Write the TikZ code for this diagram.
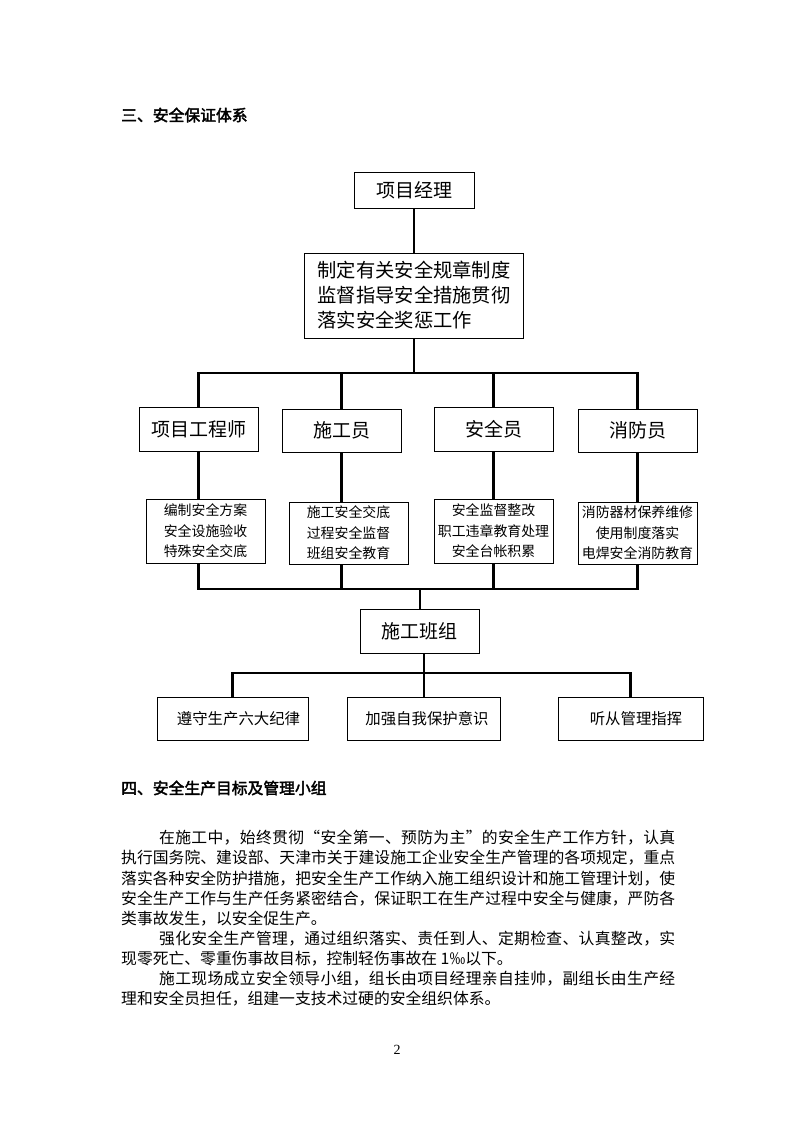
\documentclass[tikz,border=0pt]{standalone}
\usepackage{fontspec}
\setmainfont{Liberation Serif}
\newfontfamily\cjk{Noto Sans CJK SC}
\newfontfamily\cjkb{Noto Sans CJK SC}[FakeBold=2.5]
\def\sprdaux#1{\ifx\relax#1\else#1\hfil\expandafter\sprdaux\fi}
\newcommand\jline[2]{\makebox[#1][s]{\sprdaux#2\relax\unskip}}
\tikzset{
  box/.style={draw, line width=1pt, inner sep=0pt, align=center},
  conn/.style={line width=2.3pt},
  bigtxt/.style={font=\cjk\fontsize{19}{25}\selectfont},
  maintxt/.style={font=\cjk\fontsize{19.3}{25}\selectfont},
  smalltxt/.style={font=\cjk\fontsize{13.9}{20.5}\selectfont},
  midtxt/.style={font=\cjk\fontsize{15.4}{20}\selectfont},
  headtxt/.style={font=\cjkb\fontsize{15.8}{20}\selectfont, anchor=west, inner sep=0pt},
  bodytxt/.style={font=\cjk\fontsize{15.8}{20}\selectfont, anchor=west, inner sep=0pt},
  rowbox/.style={box, bigtxt, minimum width=119pt},
  lowbox/.style={box, smalltxt, minimum width=119pt},
  grpbox/.style={box, midtxt, minimum height=43pt}
}
\begin{document}
\begin{tikzpicture}[x=1pt,y=-1pt]
\fill[white] (0,0) rectangle (793,1122);
\useasboundingbox (0,0) rectangle (793,1122);

% headings
\node[headtxt] (h1) at (121,115) {三、安全保证体系};
\node[headtxt] (h2) at (121,788) {四、安全生产目标及管理小组};

% top boxes
\node[box, bigtxt, minimum width=120pt, minimum height=36pt] (pm) at (414,190) {项目经理};
\node[box, maintxt, align=left, minimum width=219pt, minimum height=85pt] (main) at (414,295.5)
  {制定有关安全规章制度\\监督指导安全措施贯彻\\落实安全奖惩工作};

% role row
\node[rowbox, minimum height=44pt] (ra) at (198.5,429) {项目工程师};
\node[rowbox, minimum height=43pt] (rb) at (341.5,430.5) {施工员};
\node[rowbox, minimum height=44pt] (rc) at (493.5,429) {安全员};
\node[rowbox, minimum height=43pt] (rd) at (637.5,430.5) {消防员};

% duty boxes
\node[lowbox, minimum height=64pt] (la) at (205.5,531) {编制安全方案\\安全设施验收\\特殊安全交底};
\node[lowbox, minimum height=62pt] (lb) at (348.5,533) {施工安全交底\\过程安全监督\\班组安全教育};
\node[lowbox, minimum height=64pt] (lc) at (493.5,531) {安全监督整改\\职工违章教育处理\\安全台帐积累};
\node[lowbox, minimum height=62pt] (ld) at (637.5,533) {消防器材保养维修\\使用制度落实\\电焊安全消防教育};

% team
\node[rowbox, minimum height=44pt] (team) at (419.5,631) {施工班组};

% group boxes
\node[grpbox, minimum width=151pt] (g1) at (232.5,718.5) {\hspace*{12pt}遵守生产六大纪律};
\node[grpbox, minimum width=153pt] (g2) at (423.5,718.5) {\hspace*{7pt}加强自我保护意识};
\node[grpbox, minimum width=145pt] (g3) at (630.5,718.5) {\hspace*{11pt}听从管理指挥};

% connectors
\coordinate (b1) at (414,373);
\coordinate (b2) at (420,589);
\coordinate (b3) at (424,673);
\draw[conn] (pm.south) -- (main.north);
\draw[conn] (main.south) -- (b1);
\draw[conn] (ra.north) |- (b1) -| (rd.north);
\draw[conn] (rb.north) -- (rb.north |- b1);
\draw[conn] (rc.north) -- (rc.north |- b1);
\draw[conn] (ra.south) -- (ra.south |- la.north);
\draw[conn] (rb.south) -- (rb.south |- lb.north);
\draw[conn] (rc.south) -- (rc.south |- lc.north);
\draw[conn] (rd.south) -- (rd.south |- ld.north);
\draw[conn] (ra.south |- la.south) |- (b2) -| (rd.south |- ld.south);
\draw[conn] (rb.south |- lb.south) -- (rb.south |- b2);
\draw[conn] (rc.south |- lc.south) -- (rc.south |- b2);
\draw[conn] (b2) -- (team.north -| b2);
\draw[conn] (team.south -| b3) -- (b3);
\draw[conn] (g1.north) |- (b3) -| (g3.north);
\draw[conn] (g2.north -| b3) -- (b3);

% body text
\node[bodytxt] (p1) at (159,838)   {\jline{516pt}{在施工中，始终贯彻“安全第一、预防为主”的安全生产工作方针，认真}};
\node[bodytxt] (p2) at (121,858.1) {\jline{554pt}{执行国务院、建设部、天津市关于建设施工企业安全生产管理的各项规定，重点}};
\node[bodytxt] (p3) at (121,878.2) {\jline{554pt}{落实各种安全防护措施，把安全生产工作纳入施工组织设计和施工管理计划，使}};
\node[bodytxt] (p4) at (121,898.3) {\jline{554pt}{安全生产工作与生产任务紧密结合，保证职工在生产过程中安全与健康，严防各}};
\node[bodytxt] (p5) at (121,918.4) {类事故发生，以安全促生产。};
\node[bodytxt] (p6) at (159,938.5) {\jline{516pt}{强化安全生产管理，通过组织落实、责任到人、定期检查、认真整改，实}};
\node[bodytxt] (p7) at (121,958.6) {现零死亡、零重伤事故目标，控制轻伤事故在 1‰以下。};
\node[bodytxt] (p8) at (159,978.7) {\jline{516pt}{施工现场成立安全领导小组，组长由项目经理亲自挂帅，副组长由生产经}};
\node[bodytxt] (p9) at (121,998.8) {理和安全员担任，组建一支技术过硬的安全组织体系。};

% page number
\node[font=\fontsize{14}{16}\selectfont, inner sep=0pt] (pg) at (397,1050) {2};
\end{tikzpicture}
\end{document}
